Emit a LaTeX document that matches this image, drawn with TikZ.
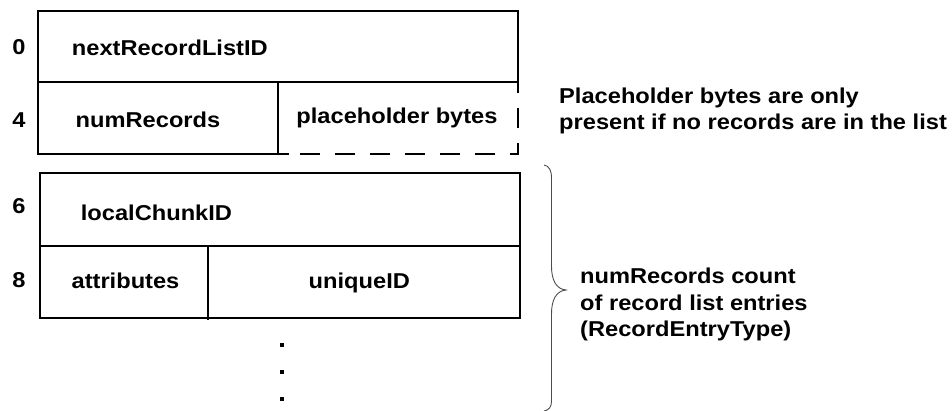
\documentclass[tikz,border=0pt]{standalone}
\usepackage{fontspec}
\setmainfont{Liberation Sans}
\newcommand\wide[1]{\scalebox{1.1}[1]{#1}}
\tikzset{
  lbl/.style={font=\bfseries\fontsize{21.5}{26}\selectfont, inner sep=0pt},
  boxline/.style={line width=2pt},
  bracel/.style={line width=0.9pt, black!70},
  dotsq/.style={fill=black, minimum size=4pt, inner sep=0pt}
}
\begin{document}
\begin{tikzpicture}[x=1pt, y=-1pt]
\useasboundingbox (0,0) rectangle (952,411);

% header record: nextRecordListID / numRecords / placeholder
\draw[boxline] (518.3,82) -- (518.3,10.7) -- (37.7,10.7) -- (37.7,154.5) -- (289,154.5);
\draw[boxline] (37.7,82) -- (518.3,82);
\draw[boxline] (277.7,82) -- (277.7,154.5);
\draw[boxline, dash pattern=on 20pt off 15pt, dash phase=9pt] (518.3,82) -- (518.3,154.5) -- (289,154.5);

% record list entry
\draw[boxline] (40,173.3) rectangle (520,317.7);
\draw[boxline] (40,246) -- (520,246);
\draw[boxline] (208.3,246) -- (208.3,319.5);

% byte offsets
\node[lbl, anchor=base] (off0) at (19,54.5) {\wide{0}};
\node[lbl, anchor=base] (off4) at (19,128) {\wide{4}};
\node[lbl, anchor=base] (off6) at (19,214) {\wide{6}};
\node[lbl, anchor=base] (off8) at (19,287.5) {\wide{8}};

% field names
\node[lbl, anchor=base west] (fnext) at (71.7,55.7) {\wide{nextRecordListID}};
\node[lbl, anchor=base] (fnum) at (148,127.7) {\wide{numRecords}};
\node[lbl, anchor=base] (fplace) at (397,124) {\wide{placeholder bytes}};
\node[lbl, anchor=base west] (flocal) at (80.7,220.7) {\wide{localChunkID}};
\node[lbl, anchor=base] (fattr) at (125.5,289) {\wide{attributes}};
\node[lbl, anchor=base] (fuid) at (359.3,289) {\wide{uniqueID}};

% continuation dots
\node[dotsq] (dotA) at (282.3,345) {};
\node[dotsq] (dotB) at (282.3,371.7) {};
\node[dotsq] (dotC) at (282.3,399) {};

% notes
\node[lbl, anchor=base west] (noteA1) at (559,103.3) {\wide{Placeholder bytes are only}};
\node[lbl, anchor=base west] (noteA2) at (559,129.3) {\wide{present if no records are in the list}};
\node[lbl, anchor=base west] (noteB1) at (580,283.3) {\wide{numRecords count}};
\node[lbl, anchor=base west] (noteB2) at (580,310) {\wide{of record list entries}};
\node[lbl, anchor=base west] (noteB3) at (580,336) {\wide{(RecordEntryType)}};

% brace spanning the entries
\draw[bracel] (544,165) .. controls (549,166) and (551.5,170) .. (551.5,178)
  -- (551.5,266) .. controls (551.5,280) and (556,289) .. (566,290)
  .. controls (556,291) and (551.5,300) .. (551.5,314)
  -- (551.5,401) .. controls (551.5,407) and (549,410) .. (544,411);
\end{tikzpicture}
\end{document}
